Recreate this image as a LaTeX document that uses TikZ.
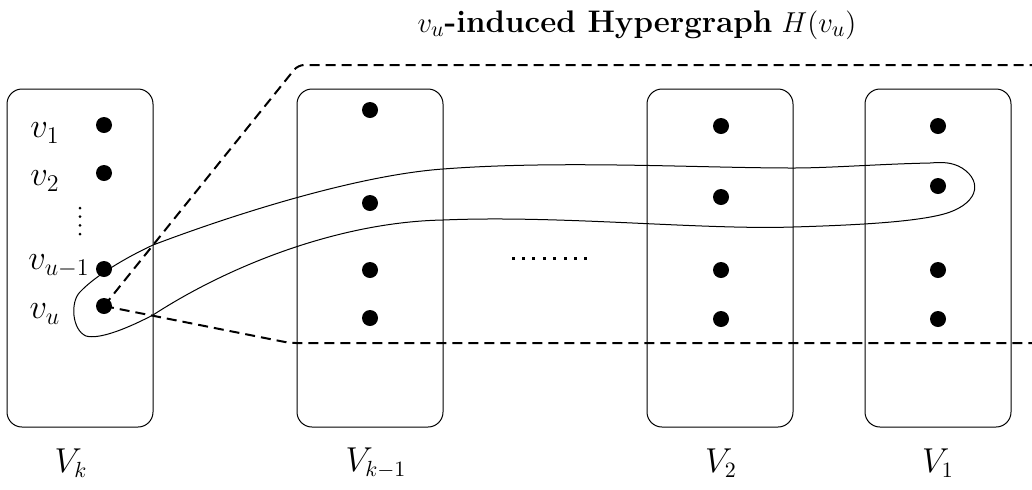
\documentclass[tikz,border=0pt]{standalone}
\usepackage{amsmath}
\begin{document}
\begin{tikzpicture}[x=0.5pt,y=-0.5pt,
  partbox/.style={draw,rounded corners=7.5pt,minimum width=73pt,minimum height=169pt,inner sep=0pt,line width=0.5pt},
  vdot/.style={circle,fill=black,inner sep=0pt,minimum size=8pt},
  lbl/.style={inner sep=0pt,font=\fontsize{17}{20}\selectfont},
  blbl/.style={inner sep=0pt,font=\fontsize{16}{19}\selectfont},
  zoomline/.style={line width=1pt,dash pattern=on 5pt off 3pt,rounded corners=3pt},
  hedge/.style={line width=0.5pt}]
\useasboundingbox (0,0) rectangle (1032,489);

% boxes
\node[partbox] (Bk)  at (80,258) {};
\node[partbox] (Bk1) at (370,258) {};
\node[partbox] (B2)  at (720,258) {};
\node[partbox] (B1)  at (938,258) {};

% dots
\node[vdot] (k1) at (104,125) {};
\node[vdot] (k2) at (104,173) {};
\node[vdot] (k3) at (104,269) {};
\node[vdot] (ku) at (104,306) {};

\node[vdot] (a1) at (370,110) {};
\node[vdot] (a2) at (370,203) {};
\node[vdot] (a3) at (370,270) {};
\node[vdot] (a4) at (370,318) {};

\node[vdot] (b1) at (721,126) {};
\node[vdot] (b2) at (721,197) {};
\node[vdot] (b3) at (721,270) {};
\node[vdot] (b4) at (721,319) {};

\node[vdot] (c1) at (938,126) {};
\node[vdot] (c2) at (938,186) {};
\node[vdot] (c3) at (938,270) {};
\node[vdot] (c4) at (938,319) {};

% vertex labels
\node[lbl] (l1) at (45,133) {$v_1$};
\node[lbl] (l2) at (45,181) {$v_2$};
\node[lbl] (l3) at (59,266) {$v_{u-1}$};
\node[lbl] (l4) at (45,314) {$v_u$};

% vertical dots
\foreach \yy in {208,216.7,225.3,234}
  \fill (80,\yy) circle (0.75pt);
% horizontal dots
\foreach \i in {0,...,7}
  \fill ({513+\i*10.4-1.5},256.5) rectangle ++(3,3);

% set labels
\node[blbl] (Lk)  at (71,463) {$V_k$};
\node[blbl] (Lk1) at (376,463) {$V_{k-1}$};
\node[blbl] (L2)  at (721,463) {$V_2$};
\node[blbl] (L1)  at (938,463) {$V_1$};

% title
\node[inner sep=0pt,anchor=base,font=\fontsize{15.6}{18}\selectfont] (title) at (637,32)
  {$v_u$\textbf{-induced Hypergraph} $H(v_u)$};

% hyperedge
\draw[hedge] (153,315)
  .. controls (230,265) and (340,222) .. (443,220)
  .. controls (560,215) and (700,230) .. (793,227)
  .. controls (860,225) and (910,222) .. (940,215)
  .. controls (978,206) and (984,182) .. (962,168)
  .. controls (952,162) and (942,162) .. (930,163)
  .. controls (880,164) and (830,168) .. (793,168)
  .. controls (700,168) and (560,160) .. (443,169)
  .. controls (360,175) and (240,212) .. (153,245)
  .. controls (125,258) and (95,276) .. (80,292)
  .. controls (70,302) and (72,330) .. (86,336)
  .. controls (100,340) and (130,327) .. cycle;

% zoom lines
\coordinate (zt) at (1032,65);
\coordinate (zb) at (1032,343);
\draw[zoomline] (ku.center) -- (298,65) -- (zt);
\draw[zoomline] (ku.center) -- (290,343) -- (zb);
\end{tikzpicture}
\end{document}
